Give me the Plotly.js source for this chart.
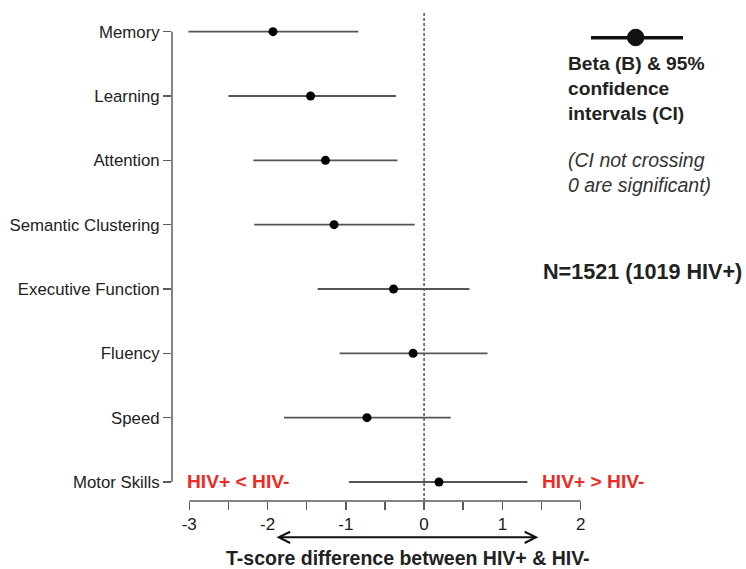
<!DOCTYPE html>
<html>
<head>
<meta charset="utf-8">
<script src="https://cdn.plot.ly/plotly-3.0.1.min.js"></script>
<style>html,body{margin:0;padding:0;background:#fff;}#chart{width:746px;height:569px;}</style>
</head>
<body>
<div id="chart"></div>
<script>
var categories = ['Memory','Learning','Attention','Semantic Clustering','Executive Function','Fluency','Speed','Motor Skills'];
var beta   = [-1.93,-1.45,-1.26,-1.15,-0.39,-0.14,-0.73,0.19];
var ciLow  = [-3.01,-2.50,-2.18,-2.17,-1.36,-1.08,-1.79,-0.96];
var ciHigh = [-0.84,-0.36,-0.34,-0.12,0.58,0.81,0.34,1.32];
var xTickVals = [-3,-2.5,-2,-1.5,-1,-0.5,0,0.5,1,1.5,2];
var xTickText = ['-3','','-2','','-1','','0','','1','','2'];

var FONT = 'Liberation Sans, Arial, sans-serif';
var RED = '#ee2a24';
var AX = '#5a5a5a';

// pixel helpers for paper coordinates (plot area: x 172..740, y 12..501)
var L = 172, R = 740, T = 12, B = 501;
function px(x){ return (x - L) / (R - L); }
function py(y){ return (B - y) / (B - T); }

var trace = {
  type: 'scatter', mode: 'markers',
  x: beta, y: categories,
  marker: {color: '#000', size: 9},
  error_x: {
    type: 'data', symmetric: false,
    array: ciHigh.map(function(v,i){ return v - beta[i]; }),
    arrayminus: beta.map(function(v,i){ return v - ciLow[i]; }),
    color: '#555', thickness: 1.8, width: 0
  },
  cliponaxis: false,
  hoverinfo: 'skip'
};

var layout = {
  width: 746, height: 569,
  margin: {l: L, r: 746 - R, t: T, b: 569 - B},
  paper_bgcolor: '#fff', plot_bgcolor: '#fff',
  showlegend: false,
  font: {family: FONT, color: '#222', size: 16},
  xaxis: {
    range: [(L - 424.1) / 78.28, (R - 424.1) / 78.28],
    tickvals: xTickVals, ticktext: xTickText,
    ticks: 'outside', ticklen: 8, tickwidth: 1.5, tickcolor: AX,
    showline: false, showgrid: false, zeroline: false,
    tickfont: {size: 17, color: '#1a1a1a'}
  },
  yaxis: {
    type: 'category', categoryorder: 'array',
    categoryarray: categories.slice().reverse(),
    range: [-0.2955, 7.306],
    ticks: 'outside', ticklen: 8, tickwidth: 1.5, tickcolor: AX,
    showline: false, showgrid: false, zeroline: false,
    tickfont: {size: 16.8, color: '#222'}
  },
  shapes: [
    // y axis line from first to last category
    {type: 'line', xref: 'paper', yref: 'y', x0: 0, x1: 0, y0: 0, y1: categories.length - 1,
     line: {color: AX, width: 1.5}},
    // x axis line from -3 to 2
    {type: 'line', xref: 'x', yref: 'paper', x0: xTickVals[0], x1: xTickVals[xTickVals.length - 1], y0: 0, y1: 0,
     line: {color: AX, width: 1.5}},
    // zero reference line
    {type: 'line', xref: 'x', yref: 'paper', x0: 0, x1: 0, y0: 0, y1: 1,
     line: {color: '#555', width: 1.5, dash: '3px,2px'}},
    // legend glyph
    {type: 'line', xref: 'paper', yref: 'paper', x0: px(591), x1: px(683), y0: py(37.7), y1: py(37.7),
     line: {color: '#111', width: 3.5}},
    {type: 'circle', xref: 'paper', yref: 'paper', x0: px(627.4), x1: px(644), y0: py(45.8), y1: py(29.2),
     fillcolor: '#111', line: {color: '#111', width: 1}}
  ],
  annotations: [
    {xref: 'paper', yref: 'paper', x: px(566), y: py(88.3), xanchor: 'left', yanchor: 'middle', align: 'left',
     showarrow: false, text: '<b>Beta (B) &amp; 95%<br>confidence<br>intervals (CI)</b>',
     font: {size: 19.2, color: '#222'}},
    {xref: 'paper', yref: 'paper', x: px(566), y: py(172.2), xanchor: 'left', yanchor: 'middle', align: 'left',
     showarrow: false, text: '<i>(CI not crossing<br>0 are significant)</i>',
     font: {size: 19.5, color: '#333'}},
    {xref: 'paper', yref: 'paper', x: px(540.5), y: py(271), xanchor: 'left', yanchor: 'middle',
     showarrow: false, text: '<b>N=1521 (1019 HIV+)</b>',
     font: {size: 21.6, color: '#222'}},
    {xref: 'paper', yref: 'paper', x: px(185), y: py(481.5), xanchor: 'left', yanchor: 'middle',
     showarrow: false, text: '<b>HIV+ &lt; HIV-</b>',
     font: {size: 19.2, color: RED}},
    {xref: 'paper', yref: 'paper', x: px(540), y: py(481.5), xanchor: 'left', yanchor: 'middle',
     showarrow: false, text: '<b>HIV+ &gt; HIV-</b>',
     font: {size: 19.2, color: RED}},
    {xref: 'paper', yref: 'paper', x: px(408), y: py(558), xanchor: 'center', yanchor: 'middle',
     showarrow: false, text: '<b>T-score difference between HIV+ &amp; HIV-</b>',
     font: {size: 19.5, color: '#222'}},
    // double-headed arrow
    {xref: 'x', yref: 'paper', x: 1.459, y: py(537.3), axref: 'x', ayref: 'pixel', ax: -1.905, ay: 0,
     text: '', showarrow: true, arrowside: 'end+start', arrowhead: 5, startarrowhead: 5,
     arrowsize: 1.1, startarrowsize: 1.1, arrowwidth: 2, arrowcolor: '#111', standoff: 0, startstandoff: 0}
  ]
};

Plotly.newPlot('chart', [trace], layout, {staticPlot: true, displayModeBar: false});
</script>
</body>
</html>
